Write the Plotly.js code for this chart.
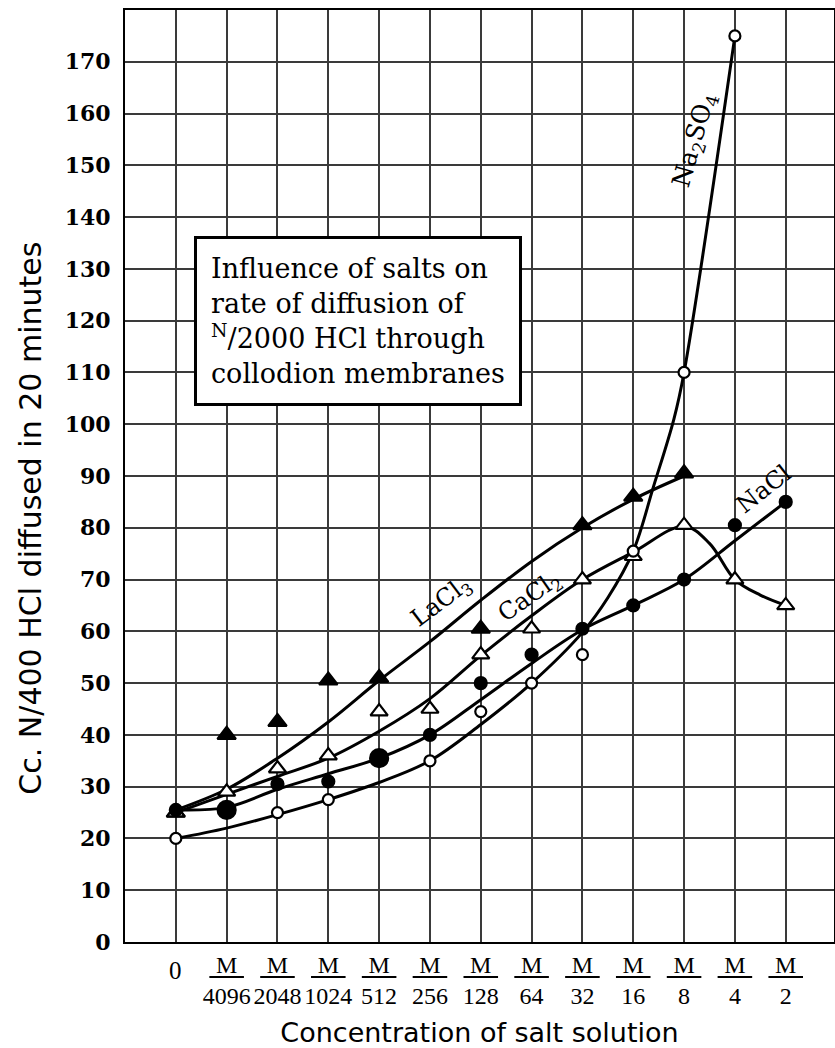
<!DOCTYPE html>
<html><head><meta charset="utf-8">
<script src="https://cdn.plot.ly/plotly-3.0.1.min.js"></script>
<style>html,body{margin:0;padding:0;background:#fff}#chart{width:835px;height:1048px}</style>
</head><body><div id="chart"></div>
<script>
// ---- data ----
const categories = ['0','M/4096','M/2048','M/1024','M/512','M/256','M/128','M/64','M/32','M/16','M/8','M/4','M/2'];
const yTicks = [0,10,20,30,40,50,60,70,80,90,100,110,120,130,140,150,160,170];

// measured points (null = no point drawn)
const laCl3Points  = [25, 40, 42.5, 50.5, 51, null, 60.5, null, 80.5, 86, 90.5, null, null];
const caCl2Points  = [25, 29, 33.5, 36, 44.5, 45, 55.5, 60.5, 70, 74.5, 80.5, 70, 65];
const naClPoints   = [25.5, 25.5, 30.5, 31, 35.5, 40, 50, 55.5, 60.5, 65, 70, 80.5, 85];
const na2so4Points = [20, null, 25, 27.5, null, 35, 44.5, 50, 55.5, 75.5, 110, 175, null];

// smoothed curves drawn through the points (positions on the category scale)
const laCl3CurveX  = [0,1,2,3,4,5,6,7,8,9,10];
const laCl3CurveY  = [25.5, 29.5, 35.5, 42.5, 50.5, 58, 66, 73.5, 80, 85.5, 90];
const caCl2CurveX  = [0,1,2,3,4,5,6,7,8,9,10,10.5,11,11.5,12];
const caCl2CurveY  = [25, 28.5, 32, 35.5, 40.7, 47, 55.3, 63, 70, 75.3, 80.3, 77, 70, 67, 65];
const naClCurveX   = [0,1,2,3,4,5,6,7,8,9,10,11,12];
const naClCurveY   = [25.5, 26, 29.5, 32.5, 35.5, 40, 46.8, 53.8, 60.3, 65, 70, 77.5, 85];
const na2so4CurveX = [0,1,2,3,4,5,6,7,8,8.5,9,9.4,9.8,10,11];
const na2so4CurveY = [20, 22, 24.6, 27.5, 30.8, 35, 42, 50, 59.8, 66.5, 75.5, 88, 101, 110, 175];

const curveLabels = ['LaCl<sub>3</sub>','CaCl<sub>2</sub>','NaCl','Na<sub>2</sub>SO<sub>4</sub>'];
const boxText = 'Influence of salts on<br>rate of diffusion of<br><sup>N</sup>/2000 HCl through<br>collodion membranes';
const xTitle = 'Concentration of salt solution';
const yTitle = 'Cc. N/400 HCl diffused in 20 minutes';

// ---- build ----
const xIndex = categories.map((c, i) => i);
const fracIndex = xIndex.filter(i => categories[i].indexOf('/') > 0);
const fracText = fracIndex.map(i => categories[i].split('/')[0] + '<br>' + categories[i].split('/')[1]);

const ink = '#000';
const gridInk = '#3a3a3a';
const serif = '"DejaVu Serif", "Liberation Serif", serif';
const numSerif = '"Liberation Serif", serif';
const letter = '"DejaVu Sans", "Liberation Sans", sans-serif';

function curve(x, y) {
  return {x: x, y: y, type: 'scatter', mode: 'lines', hoverinfo: 'skip',
    line: {color: ink, width: 3, shape: 'spline', smoothing: 1}, showlegend: false};
}
function pts(y, symbol, fill, size) {
  return {x: xIndex, y: y, type: 'scatter', mode: 'markers', showlegend: false,
    marker: {symbol: symbol, color: fill, size: size, opacity: 1, line: {color: ink, width: 2.2}}};
}

const naClSizes = naClPoints.map((v, i) => (i === 1 || i === 4) ? 18 : 12);

const data = [
  curve(laCl3CurveX, laCl3CurveY),
  curve(caCl2CurveX, caCl2CurveY),
  curve(naClCurveX, naClCurveY),
  curve(na2so4CurveX, na2so4CurveY),
  pts(laCl3Points, 'triangle-up', ink, 16),
  pts(caCl2Points, 'triangle-up', '#fff', 15),
  pts(naClPoints, 'circle', ink, naClSizes),
  pts(na2so4Points, 'circle', '#fff', 11)
];

const shapes = fracIndex.map(i => ({type: 'line', xref: 'x', yref: 'paper', x0: i - 0.34, x1: i + 0.34,
  y0: -0.0375, y1: -0.0375, line: {color: ink, width: 2}}));

const annotations = [
  {text: curveLabels[0], x: 5.22, y: 65.6, xref: 'x', yref: 'y', showarrow: false, textangle: -37,
    font: {family: serif, size: 24, color: ink}},
  {text: curveLabels[1], x: 6.96, y: 66.6, xref: 'x', yref: 'y', showarrow: false, textangle: -35,
    font: {family: serif, size: 24, color: ink}},
  {text: curveLabels[2], x: 11.57, y: 87.5, xref: 'x', yref: 'y', showarrow: false, textangle: -38,
    font: {family: serif, size: 24, color: ink}},
  {text: curveLabels[3], x: 10.22, y: 154.8, xref: 'x', yref: 'y', showarrow: false, textangle: -74,
    font: {family: serif, size: 25, color: ink}},
  {text: boxText, xref: 'paper', yref: 'paper', x: 0.097, y: 0.757, xanchor: 'left', yanchor: 'top',
    align: 'left', showarrow: false, bgcolor: '#fff', bordercolor: ink, borderwidth: 3, borderpad: 14,
    font: {family: serif, size: 27, color: ink}},
  {text: categories[0], xref: 'x', yref: 'paper', x: 0, y: -0.031, yanchor: 'middle', showarrow: false,
    font: {family: numSerif, size: 25, color: ink}},
  {text: yTitle, xref: 'paper', yref: 'paper', x: -0.133, y: 0.455, xanchor: 'center', yanchor: 'middle',
    textangle: -90, showarrow: false, font: {family: letter, size: 30, color: ink}}
];

const axisCommon = {zeroline: false, showline: true, linecolor: ink, linewidth: 2, mirror: true, ticks: ''};

const layout = {
  width: 835, height: 1048,
  margin: {l: 125, r: 1, t: 10, b: 106},
  paper_bgcolor: '#fff', plot_bgcolor: '#fff',
  showlegend: false,
  xaxis: Object.assign({}, axisCommon, {
    range: [-1, 12.95], tickmode: 'array', tickvals: fracIndex, ticktext: fracText, showgrid: false,
    tickfont: {family: numSerif, size: 24, color: ink},
    minor: {tick0: 0, dtick: 1, showgrid: true, gridcolor: gridInk, gridwidth: 2, ticks: ''},
    title: {text: xTitle, font: {family: letter, size: 27, color: ink}, standoff: 15}
  }),
  yaxis: Object.assign({}, axisCommon, {
    range: [0, 180], tickmode: 'array', tickvals: yTicks, ticktext: yTicks.map(String),
    showgrid: true, gridcolor: gridInk, gridwidth: 2,
    tickfont: {family: serif, size: 22, color: ink, weight: 'bold'}, ticklabelstandoff: 8
  }),
  shapes: shapes,
  annotations: annotations
};

Plotly.newPlot('chart', data, layout, {displayModeBar: false, staticPlot: true});
</script></body></html>
